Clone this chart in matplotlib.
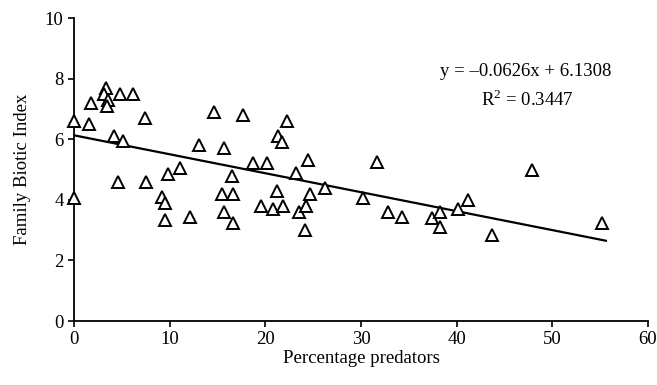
import numpy as np
import matplotlib
matplotlib.use("Agg")
import matplotlib.pyplot as plt

# Percentage predators vs Family Biotic Index
pct_predators = [0, 0, 1.6, 1.8, 3.3, 3.1, 3.6, 3.5, 4.8, 6.2,
                 4.2, 5.1, 4.6, 7.4, 7.5, 9.8, 11.1, 9.2, 9.5, 9.5,
                 12.1, 13.1, 14.6, 17.7, 22.3, 21.3, 21.7, 15.7, 18.7, 20.2,
                 24.5, 16.5, 23.2, 26.2, 15.5, 16.6, 21.2, 24.7, 19.6, 20.8,
                 21.9, 23.5, 24.3, 15.7, 16.6, 24.1, 31.7, 30.2, 32.8, 34.3,
                 37.4, 38.3, 38.3, 40.1, 41.2, 43.7, 47.9, 55.2]
fbi = [6.6, 4.05, 6.5, 7.2, 7.7, 7.5, 7.3, 7.1, 7.5, 7.5,
       6.1, 5.95, 4.6, 6.7, 4.6, 4.85, 5.05, 4.1, 3.9, 3.35,
       3.45, 5.8, 6.9, 6.8, 6.6, 6.1, 5.9, 5.7, 5.2, 5.2,
       5.3, 4.8, 4.9, 4.4, 4.2, 4.2, 4.3, 4.2, 3.8, 3.7,
       3.8, 3.6, 3.8, 3.6, 3.25, 3.0, 5.25, 4.05, 3.6, 3.45,
       3.4, 3.6, 3.1, 3.7, 4.0, 2.85, 5.0, 3.25]

# trendline from the printed equation
slope = -0.0626
intercept = 6.1308
r2 = 0.3447
line_x = [0, 55.6]

plt.rcParams["font.family"] = ["Liberation Serif", "DejaVu Serif"]
plt.rcParams["mathtext.fontset"] = "custom"
plt.rcParams["mathtext.rm"] = "Liberation Serif"

fig = plt.figure(figsize=(6.57, 3.85), dpi=100)
ax = fig.add_axes([0.1126, 0.1662, 0.8737, 0.7868])

ax.plot(pct_predators, fbi, linestyle="none", marker="^", markersize=9,
        markerfacecolor="white", markeredgecolor="black", markeredgewidth=1.4,
        clip_on=False, zorder=3)
lx = np.array(line_x)
ax.plot(lx, slope * lx + intercept, color="black", linewidth=1.6, zorder=2)

ax.set_xlim(0, 60)
ax.set_ylim(0, 10)
ax.set_xticks(range(0, 61, 10))
ax.set_yticks(range(0, 11, 2))
for s in ["top", "right"]:
    ax.spines[s].set_visible(False)
for s in ["left", "bottom"]:
    ax.spines[s].set_linewidth(1.3)
ax.tick_params(direction="out", length=4, width=1.2, labelsize=13.5)

ax.set_xlabel("Percentage predators", fontsize=13.5, labelpad=1)
ax.set_ylabel("Family Biotic Index", fontsize=13.5, labelpad=10)

ax.text(0.787, 0.823, "y = \u20130.0626x + 6.1308", transform=ax.transAxes,
        ha="center", va="center", fontsize=13.5)
ax.text(0.79, 0.732, "R$^{2}$ = 0.3447", transform=ax.transAxes,
        ha="center", va="center", fontsize=13.5)

fig.savefig("out.png", dpi=100)
